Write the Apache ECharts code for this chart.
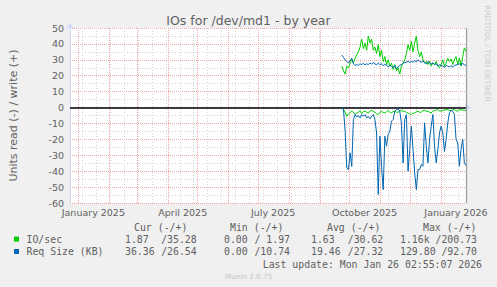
<!DOCTYPE html>
<html><head><meta charset="utf-8">
<script src="https://cdn.jsdelivr.net/npm/echarts@6/dist/echarts.min.js"></script>
<style>html,body{margin:0;padding:0;background:#f0f0f0;}#c{width:497px;height:287px;}</style>
</head><body><div id="c"></div>
<script>
// ---- time frame ----
const END_TIME = new Date(2026, 0, 26, 2, 55, 7).getTime();
const START_TIME = new Date(2024, 11, 23, 12, 0, 0).getTime();
const STEP_HOURS = 40; // sampling step of the readings below

// ---- series values (read = negative, write = positive) ----
const io_write = [26,23,21,26,25,28,30,28,31,33,35,38,43,37,40.5,36,45,40.5,43,36,38,34,39.5,32,36,29,32,27,30,26,28,24,27,23,25,21,26,28,30,34,39.5,36,41.6,35,40.5,44.8,36,32,35,30,28,29,27,29,26,28,27,29,26,25,27,30,26,28,31,29,30.5,27,30,32,27,31,26,32,37.5,35.3];
const io_read = [-0.5,-1,-3,-5.5,-4,-3,-2.3,-3,-4.4,-3.5,-2.9,-2,-3.8,-2.5,-2.3,-3,-3.4,-2.2,-1.7,-2.5,-2.9,-3.8,-4.4,-3,-2.3,-3.2,-3.4,-2.6,-1.9,-2.8,-3.4,-2.5,-2.3,-3,-2.9,-2.2,-1.7,-2.5,-2.3,-3,-3.4,-4,-4.4,-3.5,-3.4,-2.6,-2.3,-3,-2.9,-2,-1.7,-2.4,-2.3,-3,-3.4,-2.1,-1.9,-1.5,-1.3,-2.2,-2.3,-1.7,-1.7,-1.3,-1.3,-1.9,-1.9,-1.3,-1.3,-2,-2.3,-1.5,-1.3,-1.7,-1.7,-1.9];
const req_write = [33,31.5,30,29,28,29.5,31,27.5,26.5,27,26.5,27.5,27,27.8,26.8,27.5,27,28,27.2,28.3,27.5,26.8,28,27,27.5,26.3,27,26.8,25.5,26.5,25.8,25,26.5,24.5,25.5,26.5,27,27.8,28.3,28.5,29,28.3,29,28.5,29.5,28.7,30,29,28.5,29.3,28.2,27.5,29,28,27.3,28.2,27,27.5,26.2,26.8,26.5,26,25.3,26.5,26,25.6,26.2,25.5,26.4,26.8,27,27.5,27,27.8,26.9,26.5];
const req_read = [-0.5,-1,-15,-38,-39,-28.5,-37,-7.5,-4.4,-5.9,-5,-6.5,-4.4,-5.5,-4.4,-6.5,-5.5,-7.1,-5.5,-4.4,-7.5,-16,-54.7,-18,-37,-51.6,-18,-24.3,-17,-14.9,-8.6,-7.5,-2.3,-1.3,-0.8,-2.3,-10,-34.8,-7.5,-4.4,-40,-26.4,-11.7,-26.4,-41,-51.6,-39,-39,-35.8,-36.9,-9.6,-24.3,-34.8,-20,-11.7,-4.4,-24.3,-34.8,-26.4,-16,-11.7,-16,-27.5,-20,-9.6,-3.4,-1.7,-2.3,-4.4,-20,-22.2,-36.9,-26.4,-20,-34.8,-36.4];

// ---- tick labels ----
const x_tick_labels = ['January 2025','April 2025','July 2025','October 2025','January 2026'];
const x_tick_dates = [[2025,0,16],[2025,3,16],[2025,6,16],[2025,9,16],[2026,0,16]];
const y_ticks = { min: -60, max: 50, interval: 10 };

// ---- legend / stats texts ----
const legend_names = ['IO/sec', 'Req Size (KB)'];
const legend_colors = ['#00cc00', '#0066b3'];
const stat_headers = ['Cur (-/+)', 'Min (-/+)', 'Avg (-/+)', 'Max (-/+)'];
const io_stats = [['1.87','/35.28'],['0.00','/ 1.97'],['1.63','/30.62'],['1.16k','/200.73']];
const req_stats = [['36.36','/26.54'],['0.00','/10.74'],['19.46','/27.32'],['129.80','/92.70']];
const title_text = 'IOs for /dev/md1 - by year';
const y_name = 'Units read (-) / write (+)';
const last_update = 'Last update: Mon Jan 26 02:55:07 2026';
const watermark = 'Munin 2.0.75';
const side_text = 'RRDTOOL / TOBI OETIKER';

// ---- build ----
const N = io_write.length;
const times = io_write.map((_, i) => END_TIME - (N - 1 - i) * STEP_HOURS * 3600e3);
const pair = arr => arr.map((v, i) => [times[i], v]);
const labelTimes = x_tick_dates.map(d => new Date(d[0], d[1], d[2]).getTime());

const FONT = '"DejaVu Sans", sans-serif';
const MONO = '"DejaVu Sans Mono", monospace';
const TXT = '#606060';

// vertical grid: month starts (major) and fortnightly (minor)
const gridMarks = [];
for (let t = new Date(2025, 0, 5).getTime(); t < END_TIME; t += 14 * 86400e3) {
  gridMarks.push({ xAxis: t, lineStyle: { color: '#d4d4d4', type: [1, 2], width: 1 } });
}
for (let m = 0; m <= 12; m++) {
  const t = new Date(2025, m, 1).getTime();
  gridMarks.push({ xAxis: t, lineStyle: { color: '#f0a8a8', type: [1, 1], width: 1 } });
}

const chart = echarts.init(document.getElementById('c'), null, { renderer: 'svg' });

const graphics = [];
const hdrX = [134, 230, 327, 423];
const leftX = [125, 224, 311, 400];
const rightX = [196.7, 290, 383.3, 477];
stat_headers.forEach((h, i) => graphics.push({ type: 'text', x: hdrX[i], y: 227.5, style: { text: h, font: '9.85px ' + MONO, fill: TXT, align: 'left', verticalAlign: 'middle' } }));
[io_stats, req_stats].forEach((row, r) => {
  const y = r === 0 ? 239.3 : 251.7;
  graphics.push({ type: 'rect', shape: { x: 14, y: y - 2.7, width: 5, height: 5 }, style: { fill: legend_colors[r] } });
  graphics.push({ type: 'text', x: 26.5, y: y, style: { text: legend_names[r], font: '9.85px ' + MONO, fill: TXT, align: 'left', verticalAlign: 'middle' } });
  row.forEach((s, i) => {
    graphics.push({ type: 'text', x: leftX[i], y: y, style: { text: s[0], font: '9.85px ' + MONO, fill: TXT, align: 'left', verticalAlign: 'middle' } });
    graphics.push({ type: 'text', x: rightX[i], y: y, style: { text: s[1], font: '9.85px ' + MONO, fill: TXT, align: 'right', verticalAlign: 'middle' } });
  });
});
graphics.push({ type: 'text', x: 482, y: 264, style: { text: last_update, font: '9.85px ' + MONO, fill: TXT, align: 'right', verticalAlign: 'middle' } });
graphics.push({ type: 'text', x: 248.5, y: 276.5, style: { text: watermark, font: '7.3px ' + FONT, fill: '#c4c4c4', align: 'center', verticalAlign: 'middle' } });
graphics.push({ type: 'text', x: 487, y: 53.5, rotation: -Math.PI / 2, style: { text: side_text, font: '7.5px ' + FONT, fill: '#cccccc', align: 'center', verticalAlign: 'middle' } });

const lineSeries = (name, data, color) => ({
  name, type: 'line', data: pair(data), showSymbol: false, symbol: 'none', z: 3,
  lineStyle: { color, width: 1 }, itemStyle: { color }, animation: false
});

chart.setOption({
  backgroundColor: '#f0f0f0',
  animation: false,
  title: { text: title_text, left: 'center', top: 9, textStyle: { fontFamily: FONT, fontSize: 12.5, fontWeight: 'normal', color: TXT } },
  grid: { left: 67, top: 28, width: 399, height: 175, show: true, backgroundColor: '#ffffff', borderWidth: 0 },
  xAxis: {
    type: 'value', min: START_TIME, max: END_TIME,
    axisLine: { show: true, lineStyle: { color: '#cfd6f8', width: 1 }, symbol: ['none', 'arrow'], symbolSize: [6, 6], symbolOffset: [0, 5] },
    axisTick: { show: false },
    splitLine: { show: false },
    axisLabel: {
      customValues: labelTimes, hideOverlap: false, margin: 4, showMinLabel: true, showMaxLabel: true,
      fontFamily: FONT, fontSize: 9.5, color: TXT,
      formatter: v => { let k = 0, best = Infinity; labelTimes.forEach((t, i) => { const d = Math.abs(t - v); if (d < best) { best = d; k = i; } }); return x_tick_labels[k]; }
    }
  },
  yAxis: {
    type: 'value', min: y_ticks.min, max: y_ticks.max, interval: y_ticks.interval,
    name: y_name, nameLocation: 'middle', nameGap: 51,
    nameTextStyle: { fontFamily: FONT, fontSize: 11, color: TXT },
    axisLine: { show: true, lineStyle: { color: '#cfd6f8', width: 1 }, symbol: ['none', 'arrow'], symbolSize: [6, 6], symbolOffset: [0, 5] },
    axisTick: { show: false },
    axisLabel: { fontFamily: FONT, fontSize: 9.5, color: TXT, margin: 6 },
    splitLine: { show: true, lineStyle: { color: '#f0a8a8', type: [1, 1], width: 1 } },
    minorTick: { show: false, splitNumber: 2 },
    minorSplitLine: { show: true, lineStyle: { color: '#d4d4d4', type: [1, 2], width: 1 } }
  },
  series: [
    { name: 'grid', type: 'line', data: [], silent: true, z: 1,
      markLine: { silent: true, symbol: 'none', z: 1, animation: false, label: { show: false }, emphasis: { disabled: true }, data: gridMarks } },
    { name: 'frame', type: 'line', data: [], silent: true, z: 2,
      markLine: { silent: true, symbol: 'none', z: 2, animation: false, label: { show: false }, emphasis: { disabled: true },
        data: [ { yAxis: 0, lineStyle: { color: '#000000', width: 1.6, type: 'solid' } },
                { xAxis: END_TIME, lineStyle: { color: '#a0a0a0', width: 1.3, type: 'solid' } } ] } },
    lineSeries('IO/sec read', io_read, legend_colors[0]),
    lineSeries('IO/sec write', io_write, legend_colors[0]),
    lineSeries('Req Size read', req_read, legend_colors[1]),
    lineSeries('Req Size write', req_write, legend_colors[1])
  ],
  graphic: graphics
});
</script></body></html>
